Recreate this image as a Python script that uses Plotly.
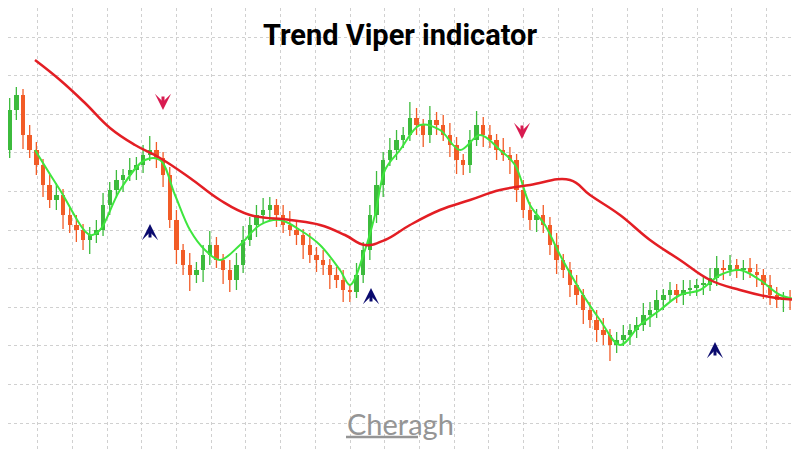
import numpy as np
import plotly.graph_objects as go

# candle closes, expressed as chart level (higher = up)
close_lvl = [150,110,95,135,150,165,185,200,195,215,225,230,240,235,230,205,190,180,175,170,
             165,155,150,158,175,220,250,265,275,270,255,245,260,270,280,265,240,225,215,210,
             205,215,225,230,235,245,255,260,265,275,280,290,292,275,250,215,185,160,150,140,
             135,118,125,135,120,125,135,145,160,165,140,125,135,140,150,155,160,190,210,220,
             215,225,245,260,270,285,295,310,320,330,335,345,340,335,330,325,315,310,300,295,
             290,295,290,288,285,285,278,268,270,265,270,268,272,275,285,295,300,298,300,302]
up_wick = [10,12,8,6,10,8,6,10,12,6,8,10,6,8,10,12,8,10,6,12,
           8,10,14,8,6,8,10,6,12,8,10,14,8,6,10,12,14,8,10,12,
           8,6,10,14,8,6,12,8,10,6,8,10,6,12,8,10,14,8,12,10,
           8,16,10,6,14,8,10,12,8,6,10,14,8,10,6,12,8,6,10,8,
           6,10,8,12,6,8,10,6,8,10,12,6,8,10,6,8,12,8,10,6,
           8,6,10,8,6,8,10,12,8,10,6,8,10,8,6,10,8,6,8,6]
dn_wick = [12,8,10,14,8,10,12,8,10,14,8,12,10,14,8,6,10,8,12,6,
           10,8,6,10,12,8,14,10,16,8,12,10,8,14,12,10,8,6,12,8,
           10,12,8,6,10,14,8,12,10,14,8,12,10,6,8,10,8,12,6,10,
           8,6,10,12,8,10,6,12,14,10,8,6,12,8,10,6,14,12,8,10,
           12,8,10,14,8,12,10,14,8,12,10,16,8,6,10,8,6,12,8,10,
           6,8,10,6,8,10,6,8,10,6,8,10,6,12,14,10,8,12,10,8]
# fast (green) line
fast_x = [35,60,90,100,120,145,160,175,190,205,220,240,260,280,300,320,340,350,365,375,385,400,420,440,460,480,
          500,515,530,545,560,580,600,620,640,660,680,700,720,740,760,780,800]
fast_lvl = [150,190,235,230,190,160,160,195,230,250,260,245,225,220,230,245,270,285,250,215,170,150,125,130,150,135,
            150,165,205,225,255,290,320,345,325,310,295,290,275,270,280,295,300]
# slow (red) line
slow_x = [35,60,85,110,135,160,190,220,250,290,320,345,365,385,410,440,470,500,530,570,590,620,650,680,710,740,770,800]
slow_lvl = [60,80,103,128,145,158,178,200,215,220,225,235,245,240,225,210,200,190,185,180,195,215,240,260,280,290,297,300]
# signal arrows
sell_x = [163,522]; sell_lvl = [103,132]
buy_x = [150,371,715]; buy_lvl = [231,295,349]

H = 450
OFF = 8  # page body margin compensation
GREEN, ORANGE = "#3dbb3d", "#f25c27"
n = len(close_lvl)
cx = np.arange(n) * 6.67 + 3
c = H - np.array(close_lvl, float)
o = np.concatenate([[H - 160], c[:-1]])
hi = np.maximum(o, c) + np.array(up_wick)
lo = np.minimum(o, c) - np.array(dn_wick)
col = [GREEN if cc >= oo else ORANGE for cc, oo in zip(c, o)]

fig = go.Figure()
for color in (GREEN, ORANGE):
    idx = [i for i in range(n) if col[i] == color]
    wx, wy = [], []
    for i in idx:
        wx += [cx[i], cx[i], None]; wy += [lo[i], hi[i], None]
    fig.add_trace(go.Scatter(x=wx, y=wy, mode="lines", line=dict(color=color, width=1.3),
                             showlegend=False, hoverinfo="skip"))
    fig.add_trace(go.Bar(x=cx[idx], base=np.minimum(o, c)[idx],
                         y=np.maximum(np.abs(c - o)[idx], 2), width=4.4,
                         marker=dict(color=color, line=dict(width=0)), showlegend=False))
fig.add_trace(go.Scatter(x=fast_x, y=H - np.array(fast_lvl), mode="lines",
    line=dict(color="#3ee63e", width=2, shape="spline"), showlegend=False))
fig.add_trace(go.Scatter(x=slow_x, y=H - np.array(slow_lvl), mode="lines",
    line=dict(color="#e31e24", width=2.5, shape="spline", smoothing=1.2), showlegend=False))

anns = []
for x, y in zip(sell_x, sell_lvl):
    anns.append(dict(x=x, y=H - y - 7, ax=x, ay=H - y + 8, axref="x", ayref="y", xref="x", yref="y",
                     text="", showarrow=True, arrowhead=3, arrowsize=0.9, arrowwidth=3, arrowcolor="#d81b50"))
for x, y in zip(buy_x, buy_lvl):
    anns.append(dict(x=x, y=H - y + 7, ax=x, ay=H - y - 8, axref="x", ayref="y", xref="x", yref="y",
                     text="", showarrow=True, arrowhead=3, arrowsize=0.9, arrowwidth=3, arrowcolor="#0a0a6e"))
anns.append(dict(x=400, y=H - 423, xref="x", yref="y", text="Cheragh", showarrow=False,
                 font=dict(family="Lato", size=29, color="#959595")))
fig.update_layout(annotations=anns,
    shapes=[dict(type="line", xref="x", yref="y", x0=346, x1=418, y0=H - 437, y1=H - 437,
                 line=dict(color="#959595", width=2.5))])

fig.update_layout(width=800, height=450, margin=dict(l=0, r=0, t=0, b=0),
    paper_bgcolor="white", plot_bgcolor="white", bargap=0,
    title=dict(text="<b>Trend Viper indicator</b>", x=(400 - OFF) / 800, y=1 - (35 - OFF) / 450,
               xanchor="center", yanchor="middle",
               font=dict(family="Roboto", size=29, color="black")),
    xaxis=dict(range=[OFF, 800 + OFF], showticklabels=False, tick0=3, dtick=34.7,
               showgrid=True, gridcolor="#d0d0d0", griddash="dot", gridwidth=1, zeroline=False, ticks=""),
    yaxis=dict(range=[-OFF, H - OFF], showticklabels=False, tick0=H - 37 - 38.6 * 10, dtick=38.6,
               showgrid=True, gridcolor="#d0d0d0", griddash="dot", gridwidth=1, zeroline=False, ticks=""))
fig.write_html("out.html")
